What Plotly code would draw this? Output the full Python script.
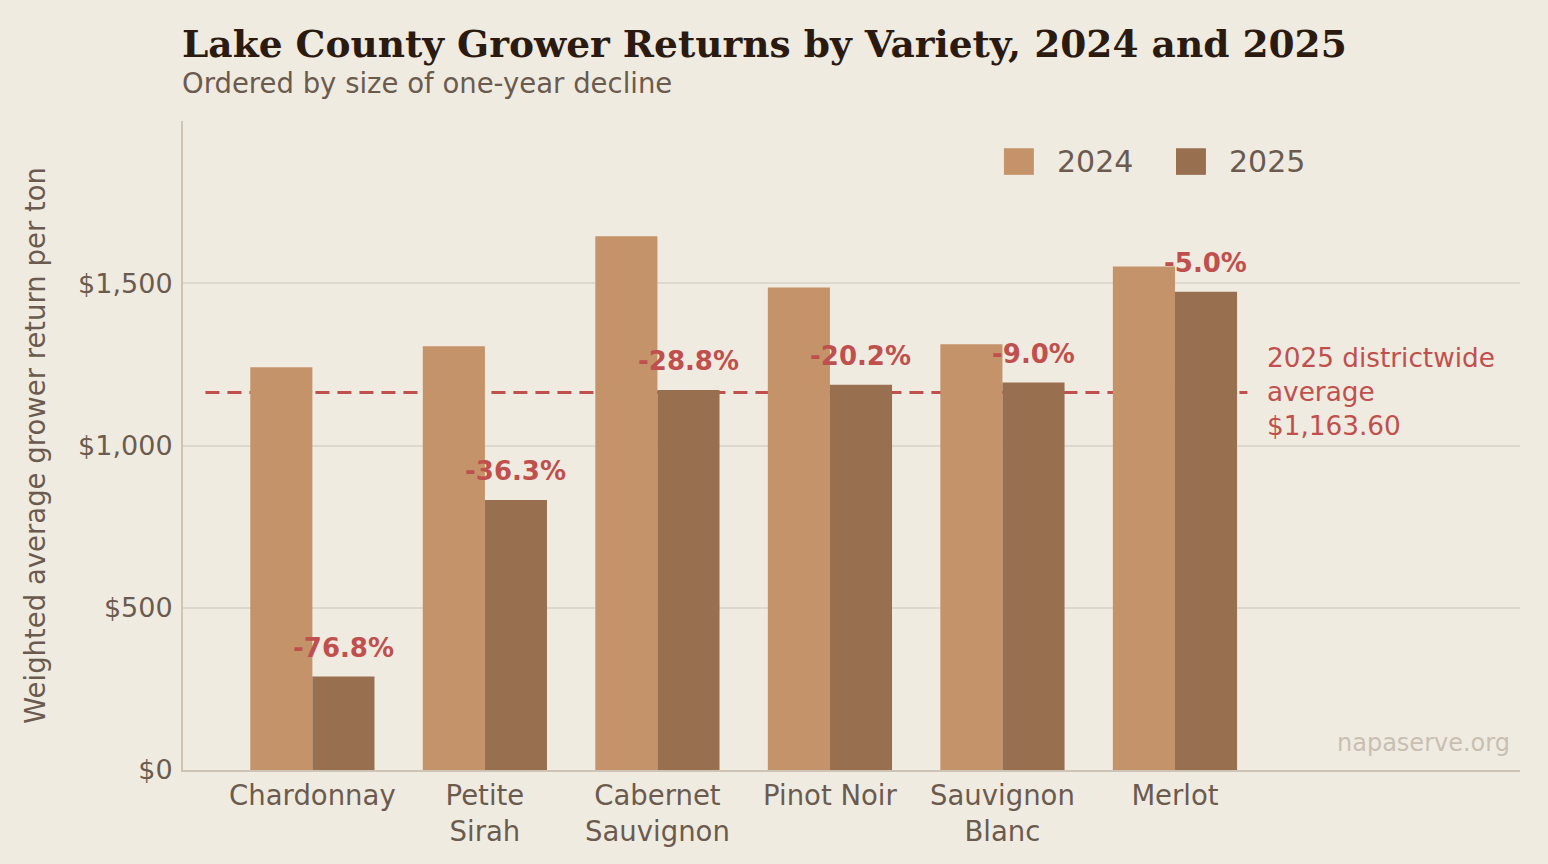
import plotly.graph_objects as go

# data
varieties = ["Chardonnay", "Petite Sirah", "Cabernet Sauvignon", "Pinot Noir", "Sauvignon Blanc", "Merlot"]
tick_labels = ["Chardonnay", "Petite<br>Sirah", "Cabernet<br>Sauvignon", "Pinot Noir", "Sauvignon<br>Blanc", "Merlot"]
returns_2024 = [1241, 1306, 1645, 1487, 1312, 1552]
returns_2025 = [288, 832, 1171, 1187, 1194, 1474]
pct_labels = ["-76.8%", "-36.3%", "-28.8%", "-20.2%", "-9.0%", "-5.0%"]
district_avg_2025 = 1163.60
y_ticks = [0, 500, 1000, 1500]
y_tick_text = ["$0", "$500", "$1,000", "$1,500"]

BG = "#f0ebe1"
C2024 = "#c4936a"
C2025 = "#986f4f"
RED = "#c0504d"
TXT = "#6b5b4f"
FONT = "DejaVu Sans"

fig = go.Figure()
fig.add_trace(go.Bar(x=varieties, y=returns_2024, name="2024", marker_color=C2024,
                     marker_line_width=0, showlegend=False))
fig.add_trace(go.Bar(x=varieties, y=returns_2025, name="2025", marker_color=C2025,
                     marker_line_width=0, showlegend=False))

# percent change labels over the 2025 bars
for v, val, lab in zip(varieties, returns_2025, pct_labels):
    fig.add_annotation(x=v, y=val, text=lab, showarrow=False, xshift=31, yshift=12,
                       yanchor="bottom", font=dict(family=FONT, size=26, color=RED, weight="bold"))

# districtwide average
fig.add_shape(type="line", xref="x", yref="y", x0=-0.62, x1=5.42,
              y0=district_avg_2025, y1=district_avg_2025, layer="between",
              line=dict(color=RED, width=3, dash="14px,8px"))
fig.add_annotation(x=5.52, y=district_avg_2025, xref="x", yref="y",
                   text="2025 districtwide<br>average<br>$%s" % format(district_avg_2025, ",.2f"),
                   showarrow=False, xanchor="left", yanchor="middle", align="left",
                   font=dict(family=FONT, size=26.3, color=RED))

# legend drawn by hand so the swatches can be large
for name, col, x0 in [("2024", C2024, 0.614), ("2025", C2025, 0.7427)]:
    fig.add_shape(type="rect", xref="paper", yref="paper", x0=x0, x1=x0 + 0.0224,
                  y0=0.917, y1=0.958, fillcolor=col, line_width=0)
    fig.add_annotation(xref="paper", yref="paper", x=x0 + 0.038, y=0.937, text=name,
                       showarrow=False, xanchor="left", yanchor="middle",
                       font=dict(family=FONT, size=30, color=TXT))

# title, subtitle, source
fig.add_annotation(xref="paper", yref="paper", x=0, y=1.119, xanchor="left", yanchor="middle",
                   xshift=-3, text="Lake County Grower Returns by Variety, 2024 and 2025", showarrow=False,
                   font=dict(family="DejaVu Serif", size=37.5, color="#2b1a10", weight="bold"))
fig.add_annotation(xref="paper", yref="paper", x=0, y=1.059, xanchor="left", yanchor="middle",
                   xshift=-3, text="Ordered by size of one-year decline", showarrow=False,
                   font=dict(family=FONT, size=27.5, color=TXT))
fig.add_annotation(xref="paper", yref="paper", x=0.994, y=0.042, xanchor="right", yanchor="middle",
                   text="napaserve.org", showarrow=False,
                   font=dict(family=FONT, size=24, color="#c8bfb2"))

fig.update_layout(
    width=1548, height=864,
    margin=dict(l=183, r=28, t=121, b=94),
    paper_bgcolor=BG, plot_bgcolor=BG,
    barmode="group", bargap=0.28, bargroupgap=0,
    font=dict(family=FONT, size=27, color=TXT),
)
fig.update_xaxes(range=[-0.75, 7.0], tickvals=varieties, ticktext=tick_labels,
                 showline=True, linecolor="#cdc4b6", linewidth=2, showgrid=False,
                 ticks="", tickfont=dict(size=27.5, color=TXT))
fig.update_yaxes(range=[0, 2000], tickvals=y_ticks, ticktext=y_tick_text,
                 showline=True, linecolor="#cdc4b6", linewidth=2,
                 gridcolor="#ddd8cd", gridwidth=2, zeroline=False, ticks="",
                 tickfont=dict(size=27, color=TXT), ticklabelstandoff=3,
                 title=dict(text="Weighted average grower return per ton", standoff=24,
                            font=dict(size=27.5, color=TXT)))

fig.write_html("out.html", config={"displayModeBar": False},
               post_script="document.body.style.margin='0';")
